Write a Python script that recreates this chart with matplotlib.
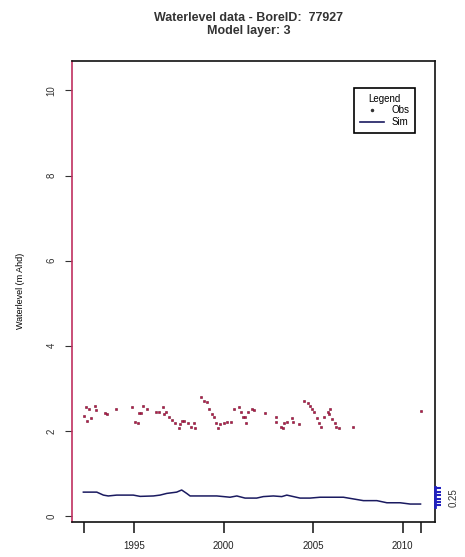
import matplotlib.pyplot as plt
from matplotlib.lines import Line2D

# =========================
# data
# =========================
BORE_ID = "77927"
LAYER = 3

# observed water levels (decimal year, m AHD)
OBS_YEAR = [
    1992.2, 1992.3, 1992.4, 1992.5, 1992.6, 1992.8, 1992.9, 1993.4, 1993.5, 1994.0,
    1994.9, 1995.05, 1995.2, 1995.3, 1995.4, 1995.5, 1995.7,
    1996.2, 1996.4, 1996.6, 1996.7, 1996.8, 1996.98, 1997.1, 1997.3, 1997.5, 1997.55,
    1997.7, 1997.8, 1998.0, 1998.2, 1998.35, 1998.4,
    1998.74, 1998.9, 1999.1, 1999.2, 1999.35, 1999.45, 1999.6, 1999.7, 1999.8, 2000.0,
    2000.2, 2000.4,
    2000.6, 2000.85, 2001.0, 2001.1, 2001.2, 2001.25, 2001.35, 2001.6, 2001.7, 2002.3,
    2002.9, 2002.95, 2003.2, 2003.3, 2003.4, 2003.55, 2003.8, 2003.9, 2004.2,
    2004.5, 2004.7, 2004.85, 2004.95, 2005.05, 2005.2, 2005.35, 2005.45, 2005.6,
    2005.85, 2005.9, 2005.95, 2006.05, 2006.2, 2006.3, 2006.45,
    2007.2, 2011.0,
]
OBS_LEVEL = [
    2.35, 2.57, 2.24, 2.52, 2.30, 2.59, 2.50, 2.42, 2.40, 2.52,
    2.57, 2.22, 2.18, 2.42, 2.42, 2.59, 2.52,
    2.45, 2.45, 2.57, 2.40, 2.45, 2.33, 2.26, 2.19, 2.07, 2.15,
    2.24, 2.24, 2.19, 2.10, 2.19, 2.07,
    2.80, 2.70, 2.68, 2.52, 2.40, 2.33, 2.19, 2.07, 2.15, 2.19,
    2.20, 2.21,
    2.52, 2.57, 2.45, 2.33, 2.33, 2.19, 2.45, 2.52, 2.50, 2.42,
    2.33, 2.22, 2.10, 2.07, 2.19, 2.22, 2.30, 2.22, 2.16,
    2.70, 2.66, 2.59, 2.52, 2.45, 2.30, 2.19, 2.10, 2.33,
    2.45, 2.40, 2.52, 2.28, 2.19, 2.10, 2.07,
    2.10, 2.47,
]

# simulated water level
SIM_YEAR = [
    1992.17, 1992.92, 1993.29, 1993.56, 1994.03, 1994.96, 1995.34, 1996.08, 1996.45,
    1996.83, 1997.38, 1997.66, 1997.94, 1998.13, 1998.69, 1999.62, 2000.0, 2000.36,
    2000.74, 2001.2, 2001.85, 2002.22, 2002.78, 2003.25, 2003.53, 2003.9, 2004.27,
    2004.83, 2005.39, 2006.13, 2006.69, 2007.25, 2007.81, 2008.56, 2009.12, 2009.86,
    2010.42, 2011.0,
]
SIM_LEVEL = [
    0.56, 0.56, 0.49, 0.47, 0.49, 0.49, 0.46, 0.47, 0.49,
    0.53, 0.56, 0.61, 0.53, 0.47, 0.47, 0.47, 0.455, 0.44,
    0.47, 0.42, 0.42, 0.455, 0.47, 0.455, 0.49, 0.455, 0.42,
    0.42, 0.44, 0.44, 0.44, 0.40, 0.36, 0.36, 0.31, 0.31,
    0.28, 0.28,
]

YTICKS = [0, 2, 4, 6, 8, 10]
XTICKS = [1992.2, 1995, 2000, 2005, 2010, 2011.0]
XTICK_LABELS = ["", "1995", "2000", "2005", "2010", ""]
RIGHT_TICKS = [0.25, 0.33, 0.41, 0.49, 0.57, 0.65]

FONT = "Liberation Sans"


def plot_bore():
    plt.rcParams.update({
        "font.family": FONT,
        "font.size": 7,
    })

    fig = plt.figure(figsize=(4.65, 5.57), dpi=100)
    ax = fig.add_axes([0.155, 0.063, 0.781, 0.828])

    ax.plot(OBS_YEAR, OBS_LEVEL, linestyle="none", marker="s", markersize=2.0,
            color="#c01048", markeredgecolor="#701830", markeredgewidth=0.4)
    ax.plot(SIM_YEAR, SIM_LEVEL, color="#1a1a60", linewidth=1.1)

    ax.set_xlim(1991.54, 2011.82)
    ax.set_ylim(-0.14, 10.7)

    ax.set_xticks(XTICKS)
    ax.set_xticklabels(XTICK_LABELS)
    ax.set_yticks(YTICKS)
    ax.set_yticklabels([str(v) for v in YTICKS], rotation=90, va="center")
    ax.tick_params(axis="x", length=8, width=1.2, pad=6, colors="#222222", labelsize=7)
    ax.tick_params(axis="y", length=5, width=0.8, pad=6, colors="#333333", labelsize=7)

    for side in ["top", "right", "bottom"]:
        ax.spines[side].set_color("#111111")
        ax.spines[side].set_linewidth(1.2)
    ax.spines["left"].set_color("#c03060")
    ax.spines["left"].set_linewidth(1.2)

    ax.set_ylabel("Waterlevel (m Ahd)", fontsize=6.5, labelpad=16)

    # small blue axis on the right
    ax2 = ax.twinx()
    ax2.set_ylim(ax.get_ylim())
    ax2.set_yticks(RIGHT_TICKS)
    ax2.set_yticklabels([])
    ax2.tick_params(axis="y", length=4, width=1.5, colors="#2020c0")
    ax2.spines["right"].set_bounds(0.2, 0.68)
    ax2.spines["right"].set_color("#2020c0")
    ax2.spines["right"].set_linewidth(2)
    for side in ["top", "left", "bottom"]:
        ax2.spines[side].set_visible(False)
    ax2.text(1.05, 0.42, "0.25", transform=ax2.get_yaxis_transform(),
             rotation=90, ha="center", va="center", fontsize=7, color="#333333")

    handles = [
        Line2D([], [], linestyle="none", marker=".", markersize=3, color="#333333"),
        Line2D([], [], color="#1a1a60", linewidth=1.2),
    ]
    leg = ax.legend(handles, ["Obs", "Sim"], title="Legend", loc="upper right",
                    bbox_to_anchor=(0.958, 0.951), fancybox=False, framealpha=1,
                    edgecolor="black", fontsize=7, title_fontsize=7,
                    handlelength=2.4, borderpad=0.6, labelspacing=0.15)
    leg.get_frame().set_linewidth(1.2)

    fig.text(0.535, 0.968, f"Waterlevel data - BoreID:  {BORE_ID}", ha="center",
             va="center", fontsize=9, fontweight="bold", color="#333333")
    fig.text(0.535, 0.945, f"Model layer: {LAYER}", ha="center",
             va="center", fontsize=9, fontweight="bold", color="#333333")

    fig.savefig("out.png", dpi=100)
    plt.close(fig)


if __name__ == "__main__":
    plot_bore()
